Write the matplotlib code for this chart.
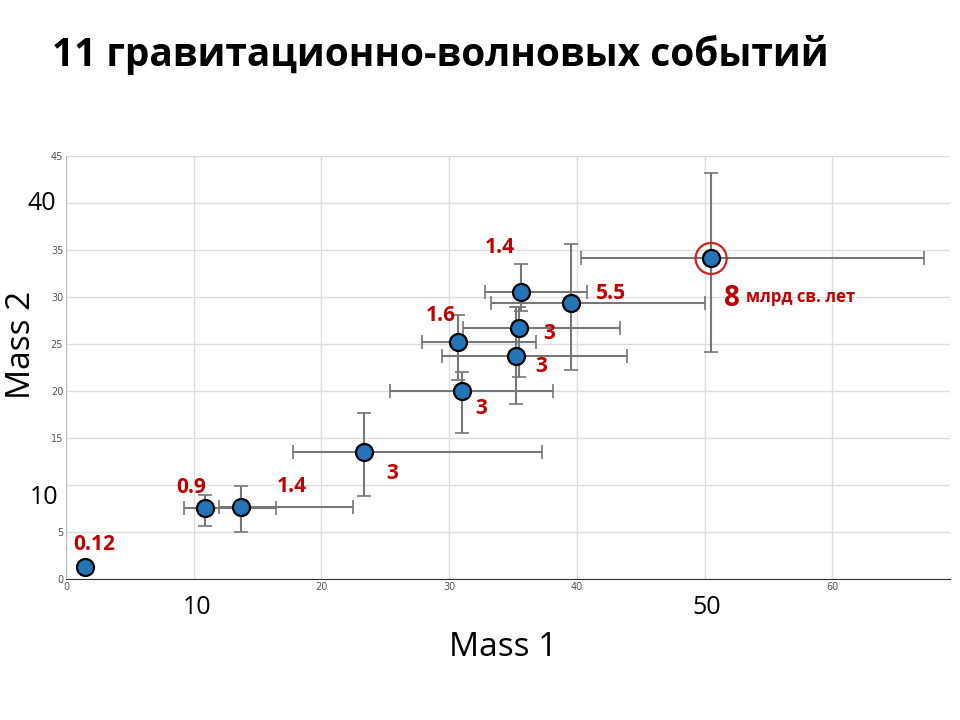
import matplotlib
matplotlib.use("Agg")
import matplotlib.pyplot as plt

mass1 = [1.5, 10.9, 13.7, 23.3, 31.0, 30.7, 35.2, 35.5, 35.6, 39.5, 50.5]
mass2 = [1.3, 7.55, 7.65, 13.5, 20.0, 25.2, 23.7, 26.7, 30.5, 29.4, 34.1]
x_lo = [1.5, 9.2, 12.0, 17.8, 25.4, 27.9, 29.4, 31.1, 32.8, 33.3, 40.3]
x_hi = [1.5, 16.4, 22.5, 37.3, 38.1, 36.8, 43.9, 43.4, 40.8, 50.0, 67.2]
y_lo = [1.3, 5.6, 5.0, 8.8, 15.5, 21.2, 18.6, 21.5, 28.5, 22.2, 24.2]
y_hi = [1.3, 8.9, 9.9, 17.7, 22.0, 28.1, 28.9, 28.9, 33.5, 35.6, 43.2]
labels = ["0.12", "0.9", "1.4", "3", "3", "1.6", "3", "3", "1.4", "5.5", ""]
label_dx = [0.7, -1.1, 4.0, 2.2, 1.5, -1.4, 2.0, 2.3, -1.6, 3.2, 0]
label_dy = [2.4, 2.2, 2.2, -2.3, -1.9, 2.8, -1.1, -0.6, 4.8, 1.0, 0]

fig = plt.figure(figsize=(9.6, 7.2), dpi=100)
ax = fig.add_axes([66/960, 1-579/720, (950-66)/960, (579-156)/720])
xerr = [[m - l for m, l in zip(mass1, x_lo)], [h - m for m, h in zip(mass1, x_hi)]]
yerr = [[m - l for m, l in zip(mass2, y_lo)], [h - m for m, h in zip(mass2, y_hi)]]
ax.errorbar(mass1, mass2, xerr=xerr, yerr=yerr, fmt='none', ecolor='#777777',
            elinewidth=1.5, capsize=5, capthick=1.2, zorder=2)
ax.scatter(mass1, mass2, s=150, c='#2375B8', edgecolors='black', linewidths=1.6, zorder=3)
ax.scatter([mass1[-1]], [mass2[-1]], s=500, facecolors='none', edgecolors='#D42020', linewidths=1.6, zorder=3)
for x, y, t, dx, dy in zip(mass1, mass2, labels, label_dx, label_dy):
    if t:
        ax.text(x + dx, y + dy, t, color='#C00000', fontsize=15, fontweight='bold',
                ha='center', va='center', family='Open Sans', zorder=4)
ax.text(mass1[-1] + 1.0, mass2[-1] - 4.3, "8", color='#C00000', fontsize=20, fontweight='bold',
        va='center', family='Open Sans')
ax.text(mass1[-1] + 2.7, mass2[-1] - 4.1, "млрд св. лет", color='#C00000', fontsize=12, fontweight='bold',
        va='center', family='Open Sans')

ax.set_xlim(0, 69.2)
ax.set_ylim(0, 45)
xt = list(range(0, 70, 10))
yt = list(range(0, 46, 5))
ax.set_xticks(xt)
ax.set_xticklabels(["" if v in (10, 50) else str(v) for v in xt])
ax.set_yticks(yt)
ax.set_yticklabels(["" if v in (10, 40) else str(v) for v in yt])
ax.grid(True, color='#DDDDDD', linewidth=1)
ax.set_axisbelow(True)
ax.tick_params(labelsize=7, colors='#555555', length=0, pad=2)
for s in ['top', 'right']:
    ax.spines[s].set_visible(False)
ax.spines['left'].set_color('#BBBBBB')
ax.spines['bottom'].set_color('#333333')

box = dict(facecolor='white', edgecolor='none', pad=4)
fig.text(197/960, 1-608/720, "10", fontsize=18, ha='center', va='center', family='Open Sans', bbox=box)
fig.text(707/960, 1-608/720, "50", fontsize=18, ha='center', va='center', family='Open Sans', bbox=box)
fig.text(42/960, 1-204/720, "40", fontsize=18, ha='center', va='center', family='Open Sans', bbox=box)
fig.text(44/960, 1-498/720, "10", fontsize=18, ha='center', va='center', family='Open Sans', bbox=box)
fig.text(503/960, 1-648/720, "Mass 1", fontsize=24, ha='center', va='center', family='Open Sans')
fig.text(22/960, 1-345/720, "Mass 2", fontsize=24, ha='center', va='center', rotation=90, family='Open Sans')
fig.text(52/960, 1-55/720, "11 гравитационно-волновых событий", fontsize=28, fontweight='bold',
         ha='left', va='center', family='Open Sans')
fig.savefig("out.png", dpi=100, facecolor='white')
